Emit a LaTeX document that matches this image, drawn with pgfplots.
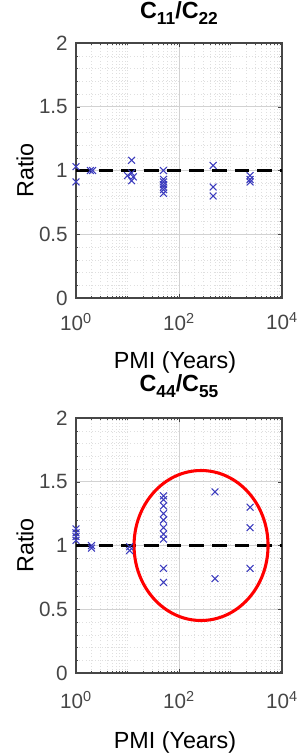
\documentclass[border=0pt]{standalone}
\usepackage{pgfplots}
\pgfplotsset{compat=1.18}
\usepackage{fontspec}
\setmainfont{Liberation Sans}
\definecolor{mk}{RGB}{60,60,190}
\definecolor{ax}{RGB}{70,70,70}
\newcommand{\sub}[1]{\raisebox{-0.45ex}{\fontsize{13}{13}\selectfont #1}}
\begin{document}
\begin{tikzpicture}
\begin{axis}[at={(0,0)}, anchor=north west,
    xmode=log, scale only axis, width=154.5pt, height=191.25pt,
    xmin=1, xmax=10000, ymin=0, ymax=2,
    xtick={1,100,10000},
    xticklabels={10\textsuperscript{0},10\textsuperscript{2},10\textsuperscript{4}},
    minor xtick={2,3,4,5,6,7,8,9,10,20,30,40,50,60,70,80,90,200,300,400,500,600,700,800,900,1000,2000,3000,4000,5000,6000,7000,8000,9000},
    ytick={0,0.5,1,1.5,2},
    yticklabels={0,0.5,1,1.5,2},
    minor ytick={0.1,0.2,0.3,0.4,0.6,0.7,0.8,0.9,1.1,1.2,1.3,1.4,1.6,1.7,1.8,1.9},
    grid=both,
    major grid style={gray!35, line width=0.4pt},
    minor grid style={gray!25, dotted, line width=0.3pt},
    axis line style={ax, line width=0.9pt},
    tick style={ax},
    major tick length=3pt, minor tick length=1.5pt,
    tick align=inside,
    ticklabel style={font=\fontsize{15.5}{16}\selectfont, text=ax},
    yticklabel style={anchor=east, inner sep=0pt, xshift=-6pt},
    xticklabel style={anchor=north, inner sep=0pt, yshift=-11pt},
    ylabel={Ratio}, xlabel={PMI (Years)},
    label style={font=\fontsize{17.5}{18}\selectfont},
    ylabel style={at={(axis description cs:0,0.5)}, anchor=center, yshift=38.25pt},
    xlabel style={at={(axis description cs:0.5,0)}, anchor=center, yshift=-48pt, xshift=-3pt},
    title={C\sub{11}/C\sub{22}},
    title style={font=\bfseries\fontsize{17.5}{18}\selectfont, at={(axis description cs:0.5,1)}, anchor=center, yshift=16.5pt},
]
\addplot[black, no markers, line width=2.3pt, dash pattern=on 11pt off 6pt] coordinates {(1,1) (10000,1)};
\addplot[mk, only marks, mark=x, mark size=3.6pt, line width=0.8pt] coordinates {
(1,1.03) (1,0.91)
(1.9,1.0) (2.1,1.0)
(10,0.96) (12,1.08) (12,0.98) (12,0.92) (13,0.95)
(50,1.0) (50,0.93) (50,0.91) (50,0.89) (50,0.87) (50,0.85) (50,0.82)
(460,1.04) (460,0.87) (460,0.80)
(2400,0.96) (2400,0.93) (2400,0.91)
};
\end{axis}
\begin{axis}[at={(0,-281.25pt)}, anchor=north west,
    xmode=log, scale only axis, width=154.5pt, height=191.25pt,
    xmin=1, xmax=10000, ymin=0, ymax=2,
    xtick={1,100,10000},
    xticklabels={10\textsuperscript{0},10\textsuperscript{2},10\textsuperscript{4}},
    minor xtick={2,3,4,5,6,7,8,9,10,20,30,40,50,60,70,80,90,200,300,400,500,600,700,800,900,1000,2000,3000,4000,5000,6000,7000,8000,9000},
    ytick={0,0.5,1,1.5,2},
    yticklabels={0,0.5,1,1.5,2},
    minor ytick={0.1,0.2,0.3,0.4,0.6,0.7,0.8,0.9,1.1,1.2,1.3,1.4,1.6,1.7,1.8,1.9},
    grid=both,
    major grid style={gray!35, line width=0.4pt},
    minor grid style={gray!25, dotted, line width=0.3pt},
    axis line style={ax, line width=0.9pt},
    tick style={ax},
    major tick length=3pt, minor tick length=1.5pt,
    tick align=inside,
    ticklabel style={font=\fontsize{15.5}{16}\selectfont, text=ax},
    yticklabel style={anchor=east, inner sep=0pt, xshift=-6pt},
    xticklabel style={anchor=north, inner sep=0pt, yshift=-13.5pt},
    ylabel={Ratio}, xlabel={PMI (Years)},
    label style={font=\fontsize{17.5}{18}\selectfont},
    ylabel style={at={(axis description cs:0,0.5)}, anchor=center, yshift=38.25pt},
    xlabel style={at={(axis description cs:0.5,0)}, anchor=center, yshift=-52pt, xshift=-3pt},
    title={C\sub{44}/C\sub{55}},
    title style={font=\bfseries\fontsize{17.5}{18}\selectfont, at={(axis description cs:0.5,1)}, anchor=center, yshift=18pt},
]
\addplot[black, no markers, line width=2.3pt, dash pattern=on 11pt off 6pt] coordinates {(1,1) (10000,1)};
\addplot[mk, only marks, mark=x, mark size=3.6pt, line width=0.8pt] coordinates {
(1,1.13) (1,1.10) (1,1.07) (1,1.04)
(2,1.0) (2,0.98)
(11,0.99) (11,0.96)
(50,1.39) (50,1.36) (50,1.31) (50,1.25) (50,1.20) (50,1.14) (50,1.09) (50,1.05) (50,0.82) (50,0.71)
(500,1.42) (500,0.74)
(2400,1.30) (2400,1.14) (2400,0.82)
};
\draw[red, line width=2.3pt] (axis cs:268,1) ellipse [x radius=50.25pt, y radius=56.25pt];
\end{axis}
\pgfresetboundingbox
\useasboundingbox (-57pt,32.25pt) rectangle (168pt,-532.5pt);
\end{tikzpicture}
\end{document}
